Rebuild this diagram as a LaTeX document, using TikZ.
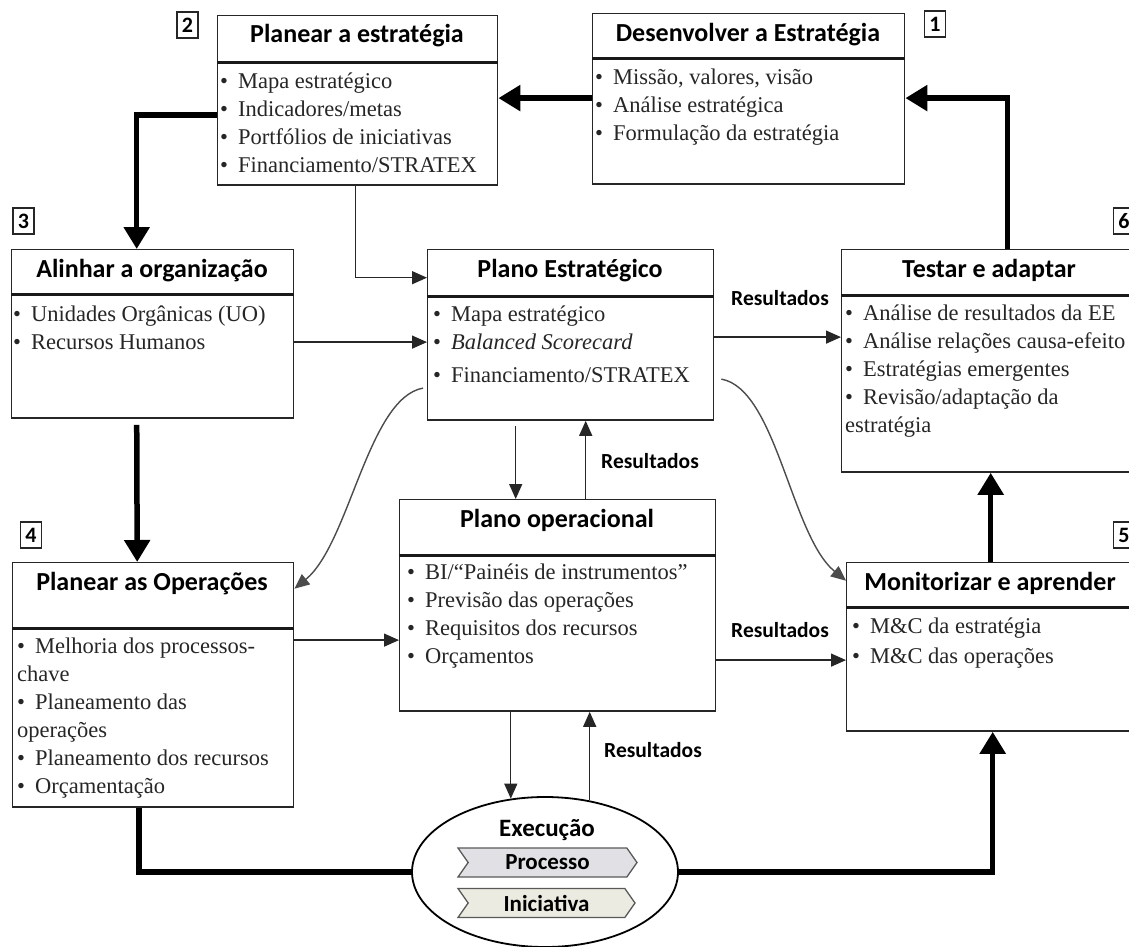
\documentclass[tikz,border=0pt]{standalone}
\usepackage{fontspec}
\setmainfont{Liberation Serif}
\newfontfamily\headfont{Carlito}
\usetikzlibrary{arrows.meta,shapes.geometric,shapes.symbols}

\definecolor{procfill}{HTML}{E0E0E5}
\definecolor{initfill}{HTML}{ECEBE1}
\newcommand\itm{\textbullet\hspace{10pt}}

\tikzset{
  frame/.style={draw=black!85, line width=1.4pt, rectangle, inner sep=0pt, anchor=north west},
  divider/.style={line width=2.6pt, black!90},
  title/.style={font=\headfont\bfseries\fontsize{26}{30}\selectfont, anchor=base, inner sep=0pt},
  body/.style={font=\fontsize{22.5}{28}\selectfont, align=left, anchor=north west, inner sep=0pt, text=black!85},
  label/.style={font=\headfont\bfseries\fontsize{21.5}{24}\selectfont, anchor=base, inner sep=0pt},
  numbox/.style={draw=black!85, line width=1.3pt, minimum width=21pt, minimum height=26pt, inner sep=0pt,
    font=\headfont\bfseries\fontsize{22}{24}\selectfont},
  heavy/.style={line width=5.5pt, line cap=butt},
  heavyarrow/.style={heavy, -{Triangle[length=22pt,width=25pt]}},
  link/.style={line width=1.4pt, black!85, -{Triangle[length=15pt,width=13pt]}},
  curvelink/.style={link, draw=black!70},
  stage/.style={signal, signal to=east, signal from=west, signal pointer angle=110, draw=black!65,
    line width=1.3pt, minimum height=29pt, inner sep=0pt, font=\headfont\bfseries\fontsize{23}{24}\selectfont},
}

\begin{document}
\begin{tikzpicture}[x=1pt,y=-1pt]
\useasboundingbox (0,0) rectangle (1129,947);
\clip (0,0) rectangle (1129,947);
\fill[white] (0,0) rectangle (1129,947);

% ---- 1: Desenvolver a Estratégia
\node[frame, minimum width=312pt, minimum height=44pt] (b1h) at (592,13) {};
\node[frame, minimum width=312pt, minimum height=125pt] (b1) at (b1h.south west) {};
\draw[divider] (b1h.south west) -- (b1h.south east);
\node[title] (b1t) at (748,42) {Desenvolver a Estratégia};
\node[body] (b1l) at ([xshift=3pt,yshift=-6.4pt]b1.north west)
  {\strut\itm Missão, valores, visão\\ \itm Análise estratégica\\ \itm Formulação da estratégia};

% ---- 2: Planear a estratégia
\node[frame, minimum width=280pt, minimum height=46pt] (b2h) at (217,15) {};
\node[frame, minimum width=280pt, minimum height=122pt] (b2) at (b2h.south west) {};
\draw[divider] (b2h.south west) -- (b2h.south east);
\node[title] (b2t) at (357,43) {Planear a estratégia};
\node[body] (b2l) at ([xshift=3pt,yshift=-6.4pt]b2.north west)
  {\strut\itm Mapa estratégico\\ \itm Indicadores/metas\\ \itm Portfólios de iniciativas\\ \itm Financiamento/STRATEX};

% ---- 3: Alinhar a organização
\node[frame, minimum width=282pt, minimum height=44pt] (b3h) at (11,249) {};
\node[frame, minimum width=282pt, minimum height=123pt] (b3) at (b3h.south west) {};
\draw[divider] (b3h.south west) -- (b3h.south east);
\node[title] (b3t) at (152,277) {Alinhar a organização};
\node[body] (b3l) at ([xshift=2pt,yshift=-7.4pt]b3.north west)
  {\strut\itm Unidades Orgânicas (UO)\\ \itm Recursos Humanos};

% ---- 4: Planear as Operações
\node[frame, minimum width=281pt, minimum height=65pt] (b4h) at (12,562) {};
\node[frame, minimum width=281pt, minimum height=178pt] (b4) at (b4h.south west) {};
\draw[divider] (b4h.south west) -- (b4h.south east);
\node[title] (b4t) at (152,590) {Planear as Operações};
\node[body] (b4l) at ([xshift=5pt,yshift=-5.4pt]b4.north west)
  {\strut\itm Melhoria dos processos-\\ chave\\ \itm Planeamento das\\ operações\\ \itm Planeamento dos recursos\\ \itm Orçamentação};

% ---- Plano Estratégico
\node[frame, minimum width=286pt, minimum height=46pt] (peh) at (427,249) {};
\node[frame, minimum width=286pt, minimum height=123pt] (pe) at (peh.south west) {};
\draw[divider] (peh.south west) -- (peh.south east);
\node[title] (pet) at (570,277) {Plano Estratégico};
\node[body] (pel) at ([xshift=6pt,yshift=-5.4pt]pe.north west)
  {\strut\itm Mapa estratégico\\ \itm \textit{Balanced Scorecard}\\[5pt] \itm Financiamento/STRATEX};

% ---- Plano operacional
\node[frame, minimum width=316pt, minimum height=55pt] (poh) at (399,499) {};
\node[frame, minimum width=316pt, minimum height=155pt] (po) at (poh.south west) {};
\draw[divider] (poh.south west) -- (poh.south east);
\node[title] (pot) at (557,527) {Plano operacional};
\node[body] (pol) at ([xshift=8pt,yshift=-4.4pt]po.north west)
  {\strut\itm BI/“Painéis de instrumentos”\\ \itm Previsão das operações\\ \itm Requisitos dos recursos\\ \itm Orçamentos};

% ---- 6: Testar e adaptar
\node[frame, minimum width=296pt, minimum height=45pt] (b6h) at (841,249) {};
\node[frame, minimum width=296pt, minimum height=176pt] (b6) at (b6h.south west) {};
\draw[divider] (b6h.south west) -- (b6h.south east);
\node[title] (b6t) at (989,277) {Testar e adaptar};
\node[body] (b6l) at ([xshift=4pt,yshift=-5.4pt]b6.north west)
  {\strut\itm Análise de resultados da EE\\ \itm Análise relações causa-efeito\\ \itm Estratégias emergentes\\ \itm Revisão/adaptação da\\ estratégia};

% ---- 5: Monitorizar e aprender
\node[frame, minimum width=288pt, minimum height=44pt] (b5h) at (846,562) {};
\node[frame, minimum width=288pt, minimum height=123pt] (b5) at (b5h.south west) {};
\draw[divider] (b5h.south west) -- (b5h.south east);
\node[title] (b5t) at (990,590) {Monitorizar e aprender};
\node[body] (b5l) at ([xshift=6pt,yshift=-6.4pt]b5.north west)
  {\strut\itm M\&C da estratégia\\[2pt] \itm M\&C das operações};

% ---- step numbers
\node[numbox] (n1) at (935,24) {1};
\node[numbox] (n2) at (187.5,25) {2};
\node[numbox] (n3) at (23.5,221) {3};
\node[numbox] (n4) at (31,535) {4};
\node[numbox] (n5) at (1124,535) {5};
\node[numbox] (n6) at (1124,221) {6};

% ---- execution
\node[ellipse, draw=black, line width=1.8pt, minimum width=266pt, minimum height=150pt, inner sep=0pt] (ex) at (545,872) {};
\node[label, font=\headfont\bfseries\fontsize{25}{26}\selectfont] (ext) at (547,836) {Execução};
\node[stage, fill=procfill, minimum width=179pt] (proc) at (547.5,862.5) {Processo};
\node[stage, fill=initfill, minimum width=177pt] (init) at (546.5,903) {Iniciativa};

% ---- main cycle (heavy arrows)
\coordinate (t6) at ([xshift=18pt]b6h.north);
\coordinate (t1) at ([yshift=23.5pt]b1.east);
\draw[heavyarrow] (t6) |- (t1);
\draw[heavyarrow] (t1 -| b1.west) -- (t1 -| b2.east);
\coordinate (t2) at ([yshift=9pt]b2.west);
\draw[heavyarrow] (t2) -| ([xshift=-16pt]b3h.north);
\draw[heavyarrow, shorten <=6pt] ([xshift=-16pt]b3.south) -- ([xshift=-16pt]b4h.north);
\draw[heavy] ([xshift=-14pt]b4.south) |- (ex.west);
\draw[heavyarrow] (ex.east) -| ([xshift=2pt]b5.south);
\draw[heavyarrow] (b5h.north) -- (b5h.north |- b6.south);

% ---- plan flows (thin arrows)
\draw[link] ([xshift=-2pt]b2.south) |- ([yshift=-5pt]peh.west);
\coordinate (a3) at ([yshift=14.5pt]b3.east);
\draw[link] (a3) -- (a3 -| pe.west);
\coordinate (r1) at ([yshift=21.5pt]pe.east);
\draw[link] (r1) -- (r1 -| b6.west);
\coordinate (d1) at ([xshift=-55pt]pe.south);
\draw[link, shorten <=5pt] (d1) -- (d1 |- poh.north);
\coordinate (u1) at ([xshift=28pt]poh.north);
\draw[link] (u1) -- (u1 |- pe.south);
\coordinate (a4) at ([yshift=78pt]b4.east);
\draw[link] (a4) -- (a4 -| po.west);
\coordinate (r2) at ([yshift=-26.5pt]po.east);
\draw[link] (r2) -- (r2 -| b5.west);
\draw[link] (ex.115 |- po.south) -- (ex.115);
\draw[link] (ex.58) -- (ex.58 |- po.south);
\draw[curvelink] ([xshift=-4pt,yshift=-29.5pt]pe.west) .. controls +(-55,10) and +(55,-45) .. ([yshift=6.5pt]b4h.east);
\draw[curvelink] ([xshift=7pt,yshift=-20.5pt]pe.east) .. controls +(55,10) and +(-55,-45) .. ([yshift=4pt]b5h.west);

% ---- result labels
\node[label] (res1) at (780,305) {Resultados};
\node[label] (res2) at (650,468) {Resultados};
\node[label] (res3) at (780,637) {Resultados};
\node[label] (res4) at (653,757) {Resultados};
\end{tikzpicture}
\end{document}
